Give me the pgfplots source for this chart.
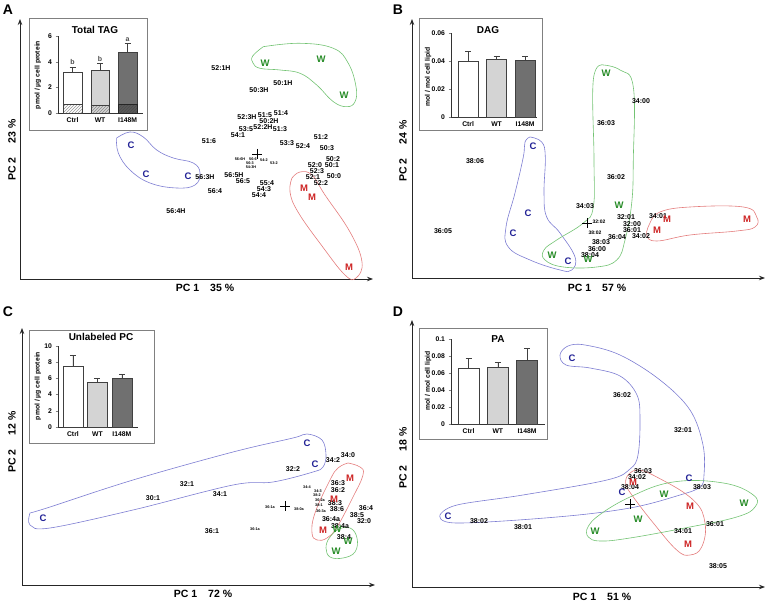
\documentclass[border=0pt]{standalone}
\usepackage{pgfplots}
\pgfplotsset{compat=1.18}
\usepackage{fontspec}
\setmainfont{Liberation Sans}
\usetikzlibrary{arrows.meta,patterns}
\definecolor{cblue}{RGB}{35,35,150}
\definecolor{oblue}{RGB}{125,125,210}
\definecolor{cgreen}{RGB}{40,140,40}
\definecolor{ogreen}{RGB}{115,195,115}
\definecolor{cred}{RGB}{205,35,35}
\definecolor{ored}{RGB}{228,125,125}
\definecolor{wtgray}{RGB}{212,212,212}
\definecolor{mgray}{RGB}{112,112,112}
\newcommand\lblf{\fontsize{7}{8}\selectfont\bfseries}
\newcommand\tinyf{\fontsize{3.8}{4}\selectfont\bfseries}
\newcommand\grpf{\fontsize{9.5}{10}\selectfont\bfseries}
\newcommand\axf{\fontsize{10.5}{11}\selectfont\bfseries}
\pgfplotsset{
  pca/.style={x=1pt,y=1pt,anchor=south west,axis lines=left,xtick=\empty,ytick=\empty,clip=false,
    axis line style={line width=0.9pt,black!85,-{Stealth[length=6pt,width=4.5pt]}}},
  labs/.style={mark=none,draw=none,nodes near coords,point meta=explicit symbolic,
    every node near coord/.append style={anchor=center,font=\lblf,text=black,inner sep=0pt}},
  tinylabs/.style={labs,every node near coord/.append style={font=\tinyf}},
  grp/.style={mark=none,draw=none,nodes near coords,point meta=explicit symbolic,
    every node near coord/.append style={anchor=center,font=\grpf,text=#1,inner sep=0pt}},
  cen/.style={only marks,mark=+,mark size=5pt,black,line width=0.8pt},
  bars/.style={anchor=south west,axis x line=bottom,axis y line=left,
    axis line style={-,line width=0.6pt,black!80},xtick={0,1,2},xticklabels={Ctrl,WT,I148M},
    tick label style={font=\fontsize{6.8}{7}\selectfont\bfseries},ymin=0,
    major tick length=2.5pt,xtick style={draw=none},tick align=outside,
    /pgf/number format/assume math mode=true,clip=false,
    yticklabel style={/pgf/number format/fixed,/pgf/number format/precision=2},scaled y ticks=false,
    xticklabel style={yshift=1pt}},
  bar/.style={ybar,bar shift=0pt,draw=black!75,line width=0.5pt,fill=#1,
    error bars/.cd,y dir=plus,y explicit,error mark=-,error mark options={line width=0.6pt,mark size=3pt,rotate=90},
    error bar style={line width=0.6pt,black!75}},
}
\begin{document}
\begin{tikzpicture}
\path[use as bounding box] (0,0) rectangle (768pt,602pt);
% ---------- panel letters and axis labels
\node[font=\fontsize{14}{14}\selectfont\bfseries] at (8pt,592pt) {A};
\node[font=\fontsize{14}{14}\selectfont\bfseries] at (398pt,592pt) {B};
\node[font=\fontsize{14}{14}\selectfont\bfseries] at (8pt,290pt) {C};
\node[font=\fontsize{14}{14}\selectfont\bfseries] at (398pt,290pt) {D};
\node[font=\axf] at (205pt,314pt) {PC 1\hspace{11pt}35 \%};
\node[font=\axf] at (597pt,314pt) {PC 1\hspace{11pt}57 \%};
\node[font=\axf] at (203pt,8pt) {PC 1\hspace{11pt}72 \%};
\node[font=\axf] at (602pt,5pt) {PC 1\hspace{11pt}51 \%};
\node[font=\axf,rotate=90] at (12pt,452pt) {PC 2\hspace{14pt}23 \%};
\node[font=\axf,rotate=90] at (403pt,451pt) {PC 2\hspace{14pt}24 \%};
\node[font=\axf,rotate=90] at (12pt,160pt) {PC 2\hspace{14pt}12 \%};
\node[font=\axf,rotate=90] at (403pt,144pt) {PC 2\hspace{14pt}18 \%};
% ---------- inset frames
\draw[black!50,line width=0.8pt] (29pt,472pt) rectangle (147pt,584pt);
\draw[black!50,line width=0.8pt] (419pt,472pt) rectangle (542pt,584pt);
\draw[black!50,line width=0.8pt] (29pt,159pt) rectangle (154pt,272pt);
\draw[black!50,line width=0.8pt] (419pt,163pt) rectangle (547pt,274pt);
\node[font=\fontsize{10}{11}\selectfont\bfseries] at (95pt,572pt) {Total TAG};
\node[font=\fontsize{10}{11}\selectfont\bfseries] at (488pt,572pt) {DAG};
\node[font=\fontsize{10}{11}\selectfont\bfseries] at (101pt,265pt) {Unlabeled PC};
\node[font=\fontsize{10}{11}\selectfont\bfseries] at (498pt,263pt) {PA};
\node[font=\fontsize{6.8}{7}\selectfont\bfseries,rotate=90] at (38pt,527pt) {pmol / µg cell protein};
\node[font=\fontsize{6.8}{7}\selectfont\bfseries,rotate=90] at (428pt,525pt) {mol / mol cell lipid};
\node[font=\fontsize{6.8}{7}\selectfont\bfseries,rotate=90] at (38pt,216pt) {pmol / µg cell protein};
\node[font=\fontsize{6.8}{7}\selectfont\bfseries,rotate=90] at (428pt,221pt) {mol / mol cell lipid};

% =================== PANEL A ===================
\begin{axis}[pca,at={(20pt,323pt)},xmin=20,xmax=373,ymin=323,ymax=583]
\addplot[oblue,line width=0.6pt,smooth,tension=0.7] coordinates {(116.7,464)(130,470)(143.3,465)(156.7,452)(173.3,444)(193.3,439)(200,429)(195,417)(176.7,414)(150,419)(130,432)(118.3,449)(116.7,464)};
\addplot[ogreen,line width=0.6pt,smooth,tension=0.7] coordinates {(263.3,555.3)(300,558.7)(333.3,553.7)(348.3,538.7)(356,515.3)(355,500.3)(346.7,495.3)(333.3,500.3)(316.7,517)(300,528.7)(280,532)(260,533.7)(253,539)(252.7,546)(263.3,555.3)};
\addplot[ored,line width=0.6pt,smooth,tension=0.7] coordinates {(292,424)(300,430)(312,427)(325,407)(350,370)(362,340)(356,324)(345,327)(322,356)(298,390)(290,410)(292,424)};
\addplot[labs] table[meta=t,row sep=\\] {x y t\\
221 534 52:1H\\ 283 519 50:1H\\ 259 512 50:3H\\ 247 485 52:3H\\ 265 487 51:5\\ 281 489 51:4\\
269 481 50:2H\\ 246 473 53:5\\ 263 475 52:2H\\ 280 473 51:3\\ 238 467 54:1\\ 209 461 51:6\\
287 459 53:3\\ 303 456 52:4\\ 321 465 51:2\\ 327 454 50:3\\ 315 437 52:0\\ 333 443 50:2\\
317 431 52:3\\ 332 437 50:1\\ 313 425 52:1\\ 334 426 50:0\\ 321 419 52:2\\ 205 425 56:3H\\
234 427 56:5H\\ 243 421 56:5\\ 267 419 55:4\\ 264 413 54:3\\ 259 407 54:4\\ 215 411 56:4\\
176 391 56:4H\\};
\addplot[tinylabs] table[meta=t,row sep=\\] {x y t\\
240 443 56:6H\\ 253 443 56:6\\ 264 442 54:2\\ 274 439 53:2\\ 250 439 56:3\\ 251 435 54:3H\\};
\addplot[grp=cblue] table[meta=t,row sep=\\] {x y t\\ 131 457 C\\ 146 428 C\\ 188 426 C\\};
\addplot[grp=cgreen] table[meta=t,row sep=\\] {x y t\\ 265 539 W\\ 321 543 W\\ 344 507 W\\};
\addplot[grp=cred] table[meta=t,row sep=\\] {x y t\\ 304 414 M\\ 312 405 M\\ 349 335 M\\};
\addplot[cen] coordinates {(257,448)};
\end{axis}

% =================== PANEL B ===================
\begin{axis}[pca,at={(412pt,324pt)},xmin=412,xmax=765,ymin=324,ymax=583]
\addplot[oblue,line width=0.6pt,smooth,tension=0.7] coordinates {(530,465)(541.7,460)(545.3,445)(544,409)(546.7,385)(560,369)(575,345)(571.7,332)(560,332)(530,342)(508.3,355)(506,375)(515,409)(523.3,445)(525,460)(530,465)};
\addplot[ogreen,line width=0.6pt,smooth,tension=0.7] coordinates {(603.3,537)(620,532)(633.3,515)(633.3,442)(631.7,399)(625,362)(616.7,342)(596.7,335)(563.3,335)(545,342)(544,352)(556.7,362)(583.3,379)(593.3,395)(594,442)(593.3,522)(603.3,537)};
\addplot[ored,line width=0.6pt,smooth,tension=0.7] coordinates {(650,379)(660,390)(690,395)(743.3,395)(756.7,385)(755,375)(736.7,371)(690,367)(656.7,361)(646.7,367)(650,379)};
\addplot[labs] table[meta=t,row sep=\\] {x y t\\
641 501 34:00\\ 606 479 36:03\\ 475 441 38:06\\ 616 425 36:02\\ 585 396 34:03\\ 626 385 32:01\\
658 386 34:01\\ 632 378 32:00\\ 443 371 36:05\\ 632 372 36:01\\ 617 365 36:04\\ 641 366 34:02\\
601 360 38:03\\ 597 353 36:00\\ 590 347 38:04\\};
\addplot[labs,every node near coord/.append style={font=\fontsize{5}{5}\selectfont\bfseries}] table[meta=t,row sep=\\] {x y t\\ 599 380 32:02\\ 595 369 38:02\\};
\addplot[grp=cblue] table[meta=t,row sep=\\] {x y t\\ 533 456 C\\ 528 389 C\\ 513 369 C\\ 568 341 C\\};
\addplot[grp=cgreen] table[meta=t,row sep=\\] {x y t\\ 606 529 W\\ 619 397 W\\ 552 347 W\\ 588 343 W\\};
\addplot[grp=cred] table[meta=t,row sep=\\] {x y t\\ 667 383 M\\ 747 383 M\\ 657 372 M\\};
\addplot[cen] coordinates {(587,379)};
\end{axis}

% =================== PANEL C ===================
\begin{axis}[pca,at={(22pt,17pt)},xmin=22,xmax=375,ymin=17,ymax=274]
\addplot[oblue,line width=0.6pt,smooth,tension=0.6] coordinates {(30,89)(50,95)(133,122)(233,150)(293,164)(307,168)(322,162)(326,147)(323,135)(313,130)(273,120)(233,117)(133,92)(50,74)(30,77)(30,89)};
\addplot[ored,line width=0.6pt,smooth,tension=0.7] coordinates {(348,139)(360,135)(363,127)(353,105)(337,75)(327,64)(317,62)(312,69)(315,89)(330,122)(338,134)(348,139)};
\addplot[ogreen,line width=0.6pt,smooth,tension=0.7] coordinates {(328,62)(337,72)(350,74)(357,64)(355,50)(343,44)(330,45)(326,54)(328,62)};
\addplot[labs] table[meta=t,row sep=\\] {x y t\\
153 104 30:1\\ 187 118 32:1\\ 220 108 34:1\\ 212 71 36:1\\ 293 133 32:2\\ 333 142 34:2\\
348 147 34:0\\ 338 119 36:3\\ 338 112 36:2\\ 335 99 38:3\\ 337 93 38:6\\ 366 94 36:4\\
357 87 38:5\\ 364 81 32:0\\ 331 83 36:4a\\ 340 76 38:4a\\ 344 65 38:4\\};
\addplot[tinylabs] table[meta=t,row sep=\\] {x y t\\
255 73 36:1a\\ 270 95 36:1a\\ 299 93 38:0a\\ 307 115 34:4\\ 318 111 34:3\\ 317 107 38:2\\
320 102 36:2a\\ 319 97 38:1\\ 321 91 36:3a\\};
\addplot[grp=cblue] table[meta=t,row sep=\\] {x y t\\ 43 84 C\\ 307 159 C\\ 315 138 C\\};
\addplot[grp=cred] table[meta=t,row sep=\\] {x y t\\ 350 124 M\\ 334 103 M\\ 323 72 M\\};
\addplot[grp=cgreen] table[meta=t,row sep=\\] {x y t\\ 337 73 W\\ 348 61 W\\ 336 51 W\\};
\addplot[cen] coordinates {(285,96)};
\end{axis}

% =================== PANEL D ===================
\begin{axis}[pca,at={(412pt,15pt)},xmin=412,xmax=765,ymin=15,ymax=282]
\addplot[oblue,line width=0.6pt,smooth,tension=0.6] coordinates {(440,87)(457,97)(523,107)(607,122)(630,133)(638,147)(640,182)(637,207)(620,226)(590,234)(566,237)(560,247)(568,256)(585,257)(620,247)(660,222)(690,192)(703,157)(704,127)(700,115)(680,107)(630,94)(557,85)(456,79)(440,87)};
\addplot[ored,line width=0.6pt,smooth,tension=0.7] coordinates {(626.7,125)(636.7,132)(656.7,125)(693.3,102)(705,79)(701.7,55)(690,47)(676.7,52)(653.3,79)(633.3,105)(626,117)(626.7,125)};
\addplot[ogreen,line width=0.6pt,smooth,tension=0.7] coordinates {(586.7,72)(596.7,85)(630,105)(673.3,120)(723.3,119)(753.3,107)(755,95)(736.7,85)(690,75)(630,64)(600,61)(588.3,65)(586.7,72)};
\addplot[labs] table[meta=t,row sep=\\] {x y t\\
622 207 36:02\\ 683 172 32:01\\ 643 131 36:03\\ 637 125 34:02\\ 630 115 38:04\\ 702 115 38:03\\
479 81 38:02\\ 523 75 38:01\\ 715 78 36:01\\ 683 71 34:01\\ 718 36 38:05\\};
\addplot[grp=cblue] table[meta=t,row sep=\\] {x y t\\ 448 86 C\\ 622 110 C\\ 689 124 C\\ 572 244 C\\};
\addplot[grp=cred] table[meta=t,row sep=\\] {x y t\\ 633 120 M\\ 690 96 M\\ 688 58 M\\};
\addplot[grp=cgreen] table[meta=t,row sep=\\] {x y t\\ 664 108 W\\ 744 99 W\\ 638 83 W\\ 595 71 W\\};
\addplot[cen] coordinates {(630,98)};
\end{axis}

% =================== INSET A ===================
\begin{axis}[bars,at={(58pt,489pt)},x=27.5pt,y=12.83pt,xmin=-0.53,xmax=2.56,ymax=6,ytick={0,2,4,6}]
\addplot[bar width=18.5pt,bar=white] coordinates {(0,3.2) +- (0,0.4)};
\addplot[bar width=18.5pt,bar=wtgray] coordinates {(1,3.3) +- (0,0.55)};
\addplot[bar width=18.5pt,bar=mgray] coordinates {(2,4.75) +- (0,0.65)};
\addplot[ybar,bar shift=0pt,bar width=18.5pt,draw=black!75,line width=0.5pt,fill=white,postaction={pattern=north east lines,pattern color=black!40}] coordinates {(0,0.67)};
\addplot[ybar,bar shift=0pt,bar width=18.5pt,draw=black!75,line width=0.5pt,fill=wtgray,postaction={pattern=north east lines,pattern color=black!45}] coordinates {(1,0.6)};
\addplot[ybar,bar shift=0pt,bar width=18.5pt,draw=black!85,line width=0.5pt,fill=mgray!80!black,postaction={pattern=north east lines,pattern color=black!70}] coordinates {(2,0.7)};
\node[font=\fontsize{7}{7}\selectfont\bfseries,text=black!70] at (axis cs:0,4.0) {b};
\node[font=\fontsize{7}{7}\selectfont\bfseries,text=black!70] at (axis cs:1,4.2) {b};
\node[font=\fontsize{7}{7}\selectfont\bfseries,text=black!70] at (axis cs:2,5.75) {a};
\end{axis}

% =================== INSET B ===================
\begin{axis}[bars,at={(451pt,485pt)},x=28.5pt,y=1400pt,xmin=-0.6,xmax=2.42,ymax=0.06,ytick={0,0.02,0.04,0.06}]
\addplot[bar width=20pt,bar=white] coordinates {(0,0.0400) +- (0,0.0068)};
\addplot[bar width=20pt,bar=wtgray] coordinates {(1,0.0412) +- (0,0.0024)};
\addplot[bar width=20pt,bar=mgray] coordinates {(2,0.0405) +- (0,0.0025)};
\end{axis}

% =================== INSET C ===================
\begin{axis}[bars,at={(58pt,175pt)},x=24.5pt,y=8.1pt,xmin=-0.61,xmax=2.65,ymax=10,ytick={0,2,4,6,8,10}]
\addplot[bar width=20pt,bar=white] coordinates {(0,7.44) +- (0,1.45)};
\addplot[bar width=20pt,bar=wtgray] coordinates {(1,5.47) +- (0,0.55)};
\addplot[bar width=20pt,bar=mgray] coordinates {(2,6.05) +- (0,0.5)};
\end{axis}

% =================== INSET D ===================
\begin{axis}[bars,at={(451pt,178pt)},x=29.25pt,y=850pt,xmin=-0.6,xmax=2.6,ymax=0.1,ytick={0,0.02,0.04,0.06,0.08,0.1}]
\addplot[bar width=21pt,bar=white] coordinates {(0,0.0655) +- (0,0.0118)};
\addplot[bar width=21pt,bar=wtgray] coordinates {(1,0.0662) +- (0,0.0064)};
\addplot[bar width=21pt,bar=mgray] coordinates {(2,0.0753) +- (0,0.0137)};
\end{axis}
\end{tikzpicture}
\end{document}
